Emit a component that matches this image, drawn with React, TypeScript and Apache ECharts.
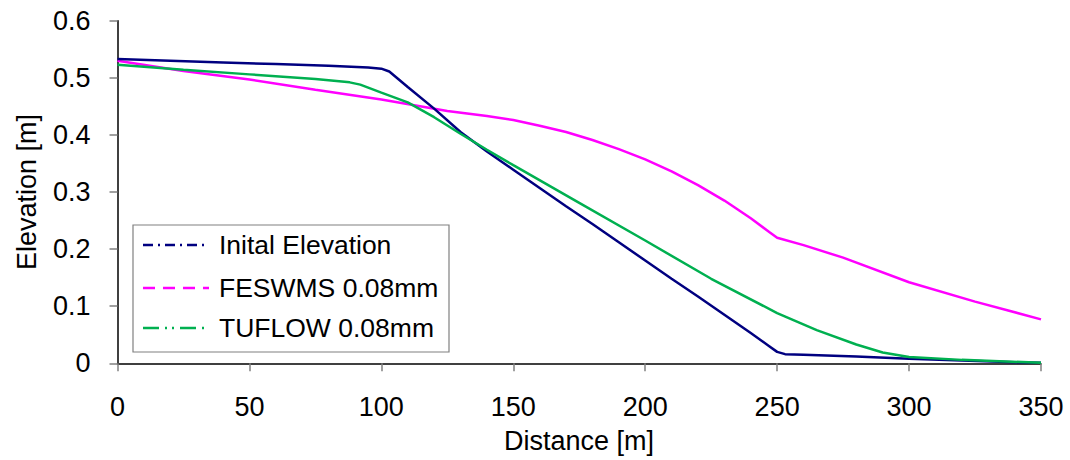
import React, { useEffect, useRef } from "react";
import * as echarts from "echarts";

const initX = [0, 20, 40, 60, 80, 95, 100, 103, 110, 120, 130, 140, 150, 160, 170, 180, 190, 200, 210, 220, 230, 240, 247, 250, 253, 260, 280, 300, 320, 340, 350];
const initY = [0.533, 0.530, 0.527, 0.524, 0.521, 0.518, 0.516, 0.511, 0.484, 0.446, 0.405, 0.371, 0.339, 0.307, 0.275, 0.244, 0.212, 0.180, 0.148, 0.117, 0.085, 0.053, 0.030, 0.020, 0.016, 0.015, 0.012, 0.008, 0.005, 0.002, 0.001];

const fesX = [0, 25, 50, 75, 100, 125, 140, 150, 160, 170, 180, 190, 200, 210, 220, 230, 240, 247, 250, 260, 275, 300, 325, 350];
const fesY = [0.530, 0.512, 0.497, 0.479, 0.462, 0.442, 0.433, 0.426, 0.416, 0.405, 0.391, 0.375, 0.357, 0.336, 0.312, 0.285, 0.254, 0.230, 0.220, 0.207, 0.185, 0.142, 0.108, 0.077];

const tufX = [0, 25, 50, 75, 88, 92, 100, 110, 120, 130, 140, 150, 175, 200, 225, 250, 265, 280, 290, 300, 320, 350];
const tufY = [0.523, 0.514, 0.506, 0.498, 0.492, 0.488, 0.474, 0.457, 0.431, 0.402, 0.374, 0.347, 0.281, 0.215, 0.148, 0.088, 0.058, 0.033, 0.019, 0.011, 0.006, 0.001];

const seriesNames = ["Inital Elevation", "FESWMS 0.08mm", "TUFLOW 0.08mm"];
const colors = ["#000080", "#FF00FF", "#00B050"];
const xTitle = "Distance [m]";
const yTitle = "Elevation [m]";

const zip = (xs: number[], ys: number[]) => xs.map((x, i) => [x, ys[i]]);

export default function App() {
  const ref = useRef<HTMLDivElement>(null);
  useEffect(() => {
    if (!ref.current) return;
    const chart = echarts.init(ref.current, null, { renderer: "svg" });
    const font = "Liberation Sans, Arial, sans-serif";
    const dashes = [[10, 5, 2, 5], [12, 8], [16, 6, 2, 5, 2, 6]];
    const legendRows = [245, 288, 328];
    const legendItems: any[] = [];
    seriesNames.forEach((n, i) => {
      legendItems.push({
        type: "line",
        shape: { x1: 143, y1: legendRows[i], x2: 209, y2: legendRows[i] },
        style: { stroke: colors[i], lineWidth: 2.5, lineDash: dashes[i] },
        z: 101,
      });
      legendItems.push({
        type: "text",
        x: 219,
        y: legendRows[i],
        style: { text: n, fontSize: 26.5, fontFamily: font, fill: "#000", verticalAlign: "middle", align: "left" },
        z: 101,
      });
    });
    chart.setOption({
      animation: false,
      backgroundColor: "#fff",
      grid: { left: 117.5, right: 29, top: 20.7, bottom: 96.7 },
      xAxis: {
        type: "value",
        min: 0,
        max: 350,
        interval: 50,
        axisLine: { show: true, lineStyle: { color: "#000", width: 1.5 } },
        axisTick: { show: true, length: 8, lineStyle: { color: "#808080", width: 1.5 } },
        axisLabel: { fontSize: 27, fontFamily: font, color: "#000", margin: 30 },
        splitLine: { show: false },
      },
      yAxis: {
        type: "value",
        min: 0,
        max: 0.6,
        interval: 0.1,
        axisLine: { show: true, lineStyle: { color: "#000", width: 1.5 } },
        axisTick: { show: true, length: 8, lineStyle: { color: "#808080", width: 1.5 } },
        axisLabel: { fontSize: 27, fontFamily: font, color: "#000", margin: 27 },
        splitLine: { show: false },
      },
      series: [
        { name: seriesNames[0], type: "line", data: zip(initX, initY), showSymbol: false, lineStyle: { color: colors[0], width: 2.5 }, z: 4 },
        { name: seriesNames[1], type: "line", data: zip(fesX, fesY), showSymbol: false, lineStyle: { color: colors[1], width: 2.5 }, z: 3 },
        { name: seriesNames[2], type: "line", data: zip(tufX, tufY), showSymbol: false, lineStyle: { color: colors[2], width: 2.5 }, z: 5 },
      ],
      graphic: [
        {
          type: "rect",
          shape: { x: 133, y: 225, width: 316, height: 127 },
          style: { fill: "#fff", stroke: "#808080", lineWidth: 1.2 },
          z: 100,
        },
        ...legendItems,
        {
          type: "text",
          x: 579,
          y: 441,
          style: { text: xTitle, fontSize: 27, fontFamily: font, fill: "#000", align: "center", verticalAlign: "middle" },
        },
        {
          type: "text",
          x: 27,
          y: 192,
          rotation: Math.PI / 2,
          style: { text: yTitle, fontSize: 27, fontFamily: font, fill: "#000", align: "center", verticalAlign: "middle" },
        },
      ],
    });
    return () => chart.dispose();
  }, []);
  return <div ref={ref} style={{ width: 1070, height: 460, position: "absolute", left: 0, top: 0 }} />;
}
